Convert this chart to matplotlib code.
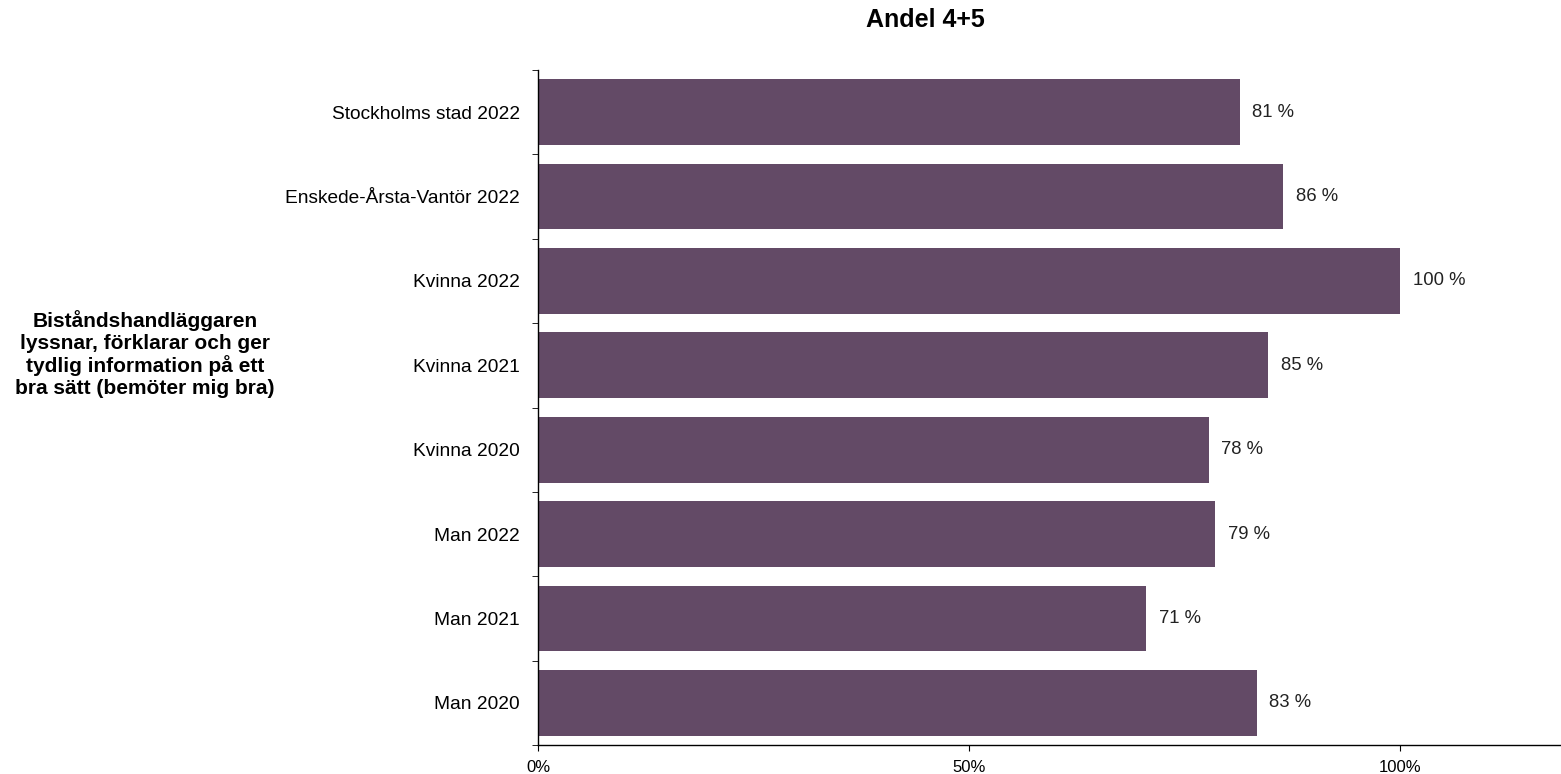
import matplotlib
matplotlib.use("Agg")
import matplotlib.pyplot as plt
import numpy as np

categories = ["Stockholms stad 2022", "Enskede-Årsta-Vantör 2022", "Kvinna 2022", "Kvinna 2021",
              "Kvinna 2020", "Man 2022", "Man 2021", "Man 2020"]
values = [0.814, 0.865, 1.00, 0.847, 0.778, 0.786, 0.706, 0.834]
labels = ["81 %", "86 %", "100 %", "85 %", "78 %", "79 %", "71 %", "83 %"]
xticks = [0, 0.5, 1.0]
xticklabels = ["0%", "50%", "100%"]
title = "Andel 4+5"
group_label = "Biståndshandläggaren\nlyssnar, förklarar och ger\ntydlig information på ett\nbra sätt (bemöter mig bra)"

plt.rcParams['font.family'] = ['Liberation Sans', 'DejaVu Sans']

fig = plt.figure(figsize=(15.61, 7.74), dpi=100)
ax = fig.add_axes([538/1561, 1-745/774, 1-538/1561, (745-70)/774])

n = len(categories)
y = np.arange(n)
ax.barh(y, values, height=0.78, color="#634A66")
ax.set_ylim(n - 0.5, -0.5)
ax.set_xlim(0, 1.187)

for yi, v, lab in zip(y, values, labels):
    ax.text(v + 0.0147, yi, lab, va="center", ha="left", fontsize=13.3, color="#222222")

ax.set_yticks(y)
ax.set_yticklabels(categories, fontsize=13.8)
ax.tick_params(axis="y", which="major", length=0, pad=13)
ax.set_yticks(np.arange(n + 1) - 0.5, minor=True)
ax.tick_params(axis="y", which="minor", length=4, direction="out")

ax.set_xticks(xticks)
ax.set_xticklabels(xticklabels, fontsize=12)
ax.tick_params(axis="x", length=4, direction="out", pad=7)

for s in ["top", "right"]:
    ax.spines[s].set_visible(False)
for s in ["left", "bottom"]:
    ax.spines[s].set_linewidth(1.0)

fig.text(925/1561, 1-20/774, title, ha="center", va="center", fontsize=18, fontweight="bold")
fig.text(145/1561, 1-354/774, group_label, ha="center", va="center", fontsize=15,
         fontweight="bold", linespacing=1.15)

fig.savefig("out.png", dpi=100)
